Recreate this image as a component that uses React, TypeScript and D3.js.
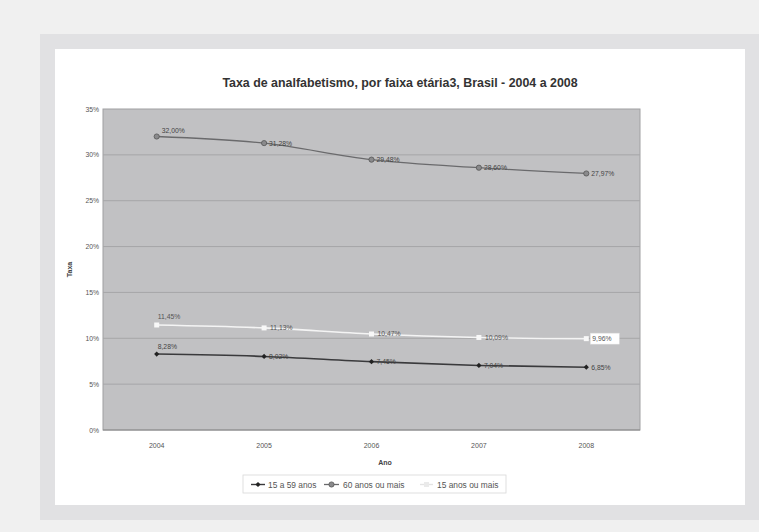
import React, { useEffect } from "react";
import * as d3 from "d3";

const years = ["2004", "2005", "2006", "2007", "2008"];
const age15to59 = [8.28, 8.02, 7.45, 7.04, 6.85];
const age60plus = [32.0, 31.28, 29.48, 28.6, 27.97];
const age15plus = [11.45, 11.13, 10.47, 10.09, 9.96];
const yTicks = [0, 5, 10, 15, 20, 25, 30, 35];
const seriesNames = ["15 a 59 anos", "60 anos ou mais", "15 anos ou mais"];

const W = 759;
const H = 532;
const plot = { left: 103, right: 640, top: 109, bottom: 430 };

const fmt = (v: number) => v.toFixed(2).replace(".", ",") + "%";

export default function App() {
  useEffect(() => {
    document.body.style.margin = "0";
  }, []);

  const x = d3
    .scalePoint<string>()
    .domain(years)
    .range([plot.left, plot.right])
    .padding(0.5);
  const y = d3.scaleLinear().domain([0, 35]).range([plot.bottom, plot.top]);

  const line = d3
    .line<number>()
    .x((_, i) => x(years[i]) as number)
    .y((d) => y(d))
    .curve(d3.curveMonotoneX);

  const font = "Liberation Sans, Arial, sans-serif";
  const labelSize = 6.8;

  const diamond = (cx: number, cy: number, s: number) =>
    `M${cx},${cy - s}L${cx + s},${cy}L${cx},${cy + s}L${cx - s},${cy}Z`;

  return (
    <svg width={W} height={H} style={{ display: "block" }} fontFamily={font}>
      <rect x={0} y={0} width={W} height={H} fill="#f0f0f0" />
      <rect x={40} y={34} width={W - 40} height={486} fill="#e1e1e3" />
      <rect x={55} y={49} width={690} height={456} fill="#ffffff" />

      <text x={400} y={87} textAnchor="middle" fontSize={12.4} fontWeight="bold" fill="#333">
        Taxa de analfabetismo, por faixa etária3, Brasil - 2004 a 2008
      </text>

      {/* plot area */}
      <rect
        x={plot.left}
        y={plot.top}
        width={plot.right - plot.left}
        height={plot.bottom - plot.top}
        fill="#c1c1c3"
        stroke="#a0a0a2"
        strokeWidth={1}
      />
      {yTicks.map((t) => (
        <g key={t}>
          {t > 0 && t < 35 && (
            <line x1={plot.left} x2={plot.right} y1={y(t)} y2={y(t)} stroke="#a6a6a8" strokeWidth={1} />
          )}
          <text x={99} y={y(t) + 2.5} textAnchor="end" fontSize={6.8} fill="#555">
            {t}%
          </text>
        </g>
      ))}
      <line x1={plot.left} x2={plot.right} y1={plot.bottom} y2={plot.bottom} stroke="#888" strokeWidth={1} />
      {years.map((yr) => (
        <text key={yr} x={x(yr) as number} y={448} textAnchor="middle" fontSize={7} fill="#555">
          {yr}
        </text>
      ))}
      <text x={385} y={465} textAnchor="middle" fontSize={7} fontWeight="bold" fill="#444">
        Ano
      </text>
      <text
        transform={`translate(72,${(plot.top + plot.bottom) / 2}) rotate(-90)`}
        textAnchor="middle"
        fontSize={7}
        fontWeight="bold"
        fill="#444"
      >
        Taxa
      </text>

      {/* 60 anos ou mais */}
      <path d={line(age60plus) ?? ""} fill="none" stroke="#6a6a6c" strokeWidth={1.3} />
      {age60plus.map((v, i) => {
        const cx = x(years[i]) as number;
        const cy = y(v);
        return (
          <g key={"a" + i}>
            <circle cx={cx} cy={cy} r={2.6} fill="#8a8a8c" stroke="#555" strokeWidth={0.8} />
            <text x={cx + 5} y={i === 0 ? cy - 4 : cy + 2.5} fontSize={labelSize} fill="#444">
              {fmt(v)}
            </text>
          </g>
        );
      })}

      {/* 15 anos ou mais */}
      <path d={line(age15plus) ?? ""} fill="none" stroke="#f4f4f4" strokeWidth={1.6} />
      {age15plus.map((v, i) => {
        const cx = x(years[i]) as number;
        const cy = y(v);
        const last = i === years.length - 1;
        return (
          <g key={"c" + i}>
            <rect x={cx - 2.5} y={cy - 2.5} width={5} height={5} fill="#f8f8f8" />
            {last && <rect x={cx + 4} y={cy - 5.5} width={29} height={11} fill="#ffffff" stroke="#ddd" strokeWidth={0.5} />}
            <text
              x={cx + (i === 0 ? 1 : 6)}
              y={i === 0 ? cy - 6 : cy + 2.5}
              fontSize={labelSize}
              fill="#555"
            >
              {fmt(v)}
            </text>
          </g>
        );
      })}

      {/* 15 a 59 anos */}
      <path d={line(age15to59) ?? ""} fill="none" stroke="#3a3a3c" strokeWidth={1.6} />
      {age15to59.map((v, i) => {
        const cx = x(years[i]) as number;
        const cy = y(v);
        return (
          <g key={"b" + i}>
            <path d={diamond(cx, cy, 2.6)} fill="#222" />
            <text
              x={cx + (i === 0 ? 1 : 5)}
              y={i === 0 ? cy - 5 : cy + 2.5}
              fontSize={labelSize}
              fill="#444"
            >
              {fmt(v)}
            </text>
          </g>
        );
      })}

      {/* legend */}
      <g>
        <rect x={243} y={475} width={263} height={18} fill="#fff" stroke="#d8d8d8" strokeWidth={0.8} />
        <line x1={251} x2={265} y1={484.5} y2={484.5} stroke="#3a3a3c" strokeWidth={1.4} />
        <path d={diamond(258, 484.5, 2.6)} fill="#222" />
        <text x={268} y={487.5} fontSize={8.4} fill="#555">
          {seriesNames[0]}
        </text>
        <line x1={324} x2={339} y1={484.5} y2={484.5} stroke="#6a6a6c" strokeWidth={1.3} />
        <circle cx={331.5} cy={484.5} r={2.6} fill="#8a8a8c" stroke="#555" strokeWidth={0.8} />
        <text x={343} y={487.5} fontSize={8.4} fill="#555">
          {seriesNames[1]}
        </text>
        <line x1={420} x2={433} y1={484.5} y2={484.5} stroke="#e4e4e4" strokeWidth={1.4} />
        <rect x={424} y={482} width={5} height={5} fill="#eaeaea" />
        <text x={437} y={487.5} fontSize={8.4} fill="#555">
          {seriesNames[2]}
        </text>
      </g>
    </svg>
  );
}
